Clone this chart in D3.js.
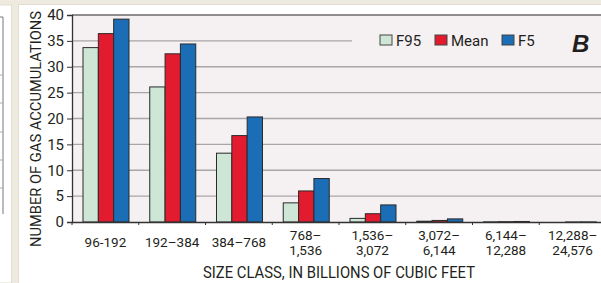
<!DOCTYPE html>
<html>
<head>
<meta charset="utf-8">
<script src="https://cdn.jsdelivr.net/npm/d3@7/dist/d3.min.js"></script>
<style>
  html, body { margin: 0; padding: 0; background: #eeeae0; }
  svg { display: block; }
  text { font-family: "Liberation Sans Narrow", "Arial Narrow", "Roboto", sans-serif; fill: #231f20; }
</style>
</head>
<body>
<div id="chart"></div>
<script>
// data
var categories = ["96-192", "192–384", "384–768", "768–|1,536", "1,536–|3,072",
                  "3,072–|6,144", "6,144–|12,288", "12,288–|24,576"];
var seriesNames = ["F95", "Mean", "F5"];
var f95  = [33.7, 26.1, 13.3, 3.7, 0.7, 0.15, 0.03, 0];
var mean = [36.4, 32.5, 16.7, 6.0, 1.6, 0.3, 0.06, 0.01];
var f5   = [39.2, 34.4, 20.3, 8.4, 3.3, 0.6, 0.1, 0.02];
var yTicks = [0, 5, 10, 15, 20, 25, 30, 35, 40];
var colors = ["#cde6d6", "#e31b2e", "#1b6db5"];

var width = 601, height = 283;
var plotLeft = 72, plotRight = 606, plotTop = 15, plotBottom = 222;

var svg = d3.select("#chart").append("svg")
    .attr("width", width)
    .attr("height", height);

// background panels
svg.append("rect").attr("x", 0).attr("y", 0).attr("width", width).attr("height", height).attr("fill", "#eeeae0");
svg.append("rect").attr("x", -5).attr("y", 5).attr("width", 16.5).attr("height", 278)
    .attr("fill", "#fff").attr("stroke", "#e2ddd0");
svg.append("rect").attr("x", 18.5).attr("y", 4.5).attr("width", 600).attr("height", 290)
    .attr("fill", "#fff").attr("stroke", "#e2ddd0");

// fragment of the neighbouring panel
svg.append("line").attr("x1", 3).attr("x2", 3).attr("y1", 17).attr("y2", 214)
    .attr("stroke", "#777");
[75, 103, 132, 160, 188].forEach(function(v) {
  svg.append("line").attr("x1", 0).attr("x2", 3).attr("y1", v).attr("y2", v).attr("stroke", "#aaa");
});
svg.append("line").attr("x1", 0).attr("x2", 3).attr("y1", 17).attr("y2", 17).attr("stroke", "#777");

var x0 = d3.scaleBand().domain(d3.range(categories.length)).range([plotLeft, plotRight]);
var x1 = d3.scaleBand().domain(seriesNames).range([11, 57]);
var y = d3.scaleLinear().domain([0, 40]).range([plotBottom, plotTop]);

// plot area
svg.append("rect").attr("x", plotLeft).attr("y", plotTop)
    .attr("width", plotRight - plotLeft).attr("height", plotBottom - plotTop)
    .attr("fill", "#f5f0f2");

// gridlines
svg.append("g").selectAll("line")
  .data(yTicks.filter(function(d) { return d > 0 && d < 40; }))
  .enter().append("line")
    .attr("x1", plotLeft).attr("x2", plotRight)
    .attr("y1", function(d) { return y(d); })
    .attr("y2", function(d) { return y(d); })
    .attr("stroke", "#a9a6a8")
    .attr("stroke-width", 1.3);
svg.append("line").attr("x1", plotLeft).attr("x2", plotRight).attr("y1", y(40)).attr("y2", y(40))
    .attr("stroke", "#6d6a6c").attr("stroke-width", 1.5);

// legend background breaks the 35 gridline
svg.append("rect").attr("x", 352).attr("y", 28).attr("width", 260).attr("height", 24).attr("fill", "#f5f0f2");

// bars
var rows = categories.map(function(c, i) { return [f95[i], mean[i], f5[i]]; });
var grp = svg.append("g").selectAll("g")
  .data(rows)
  .enter().append("g")
    .attr("transform", function(d, i) { return "translate(" + x0(i) + ",0)"; });
grp.selectAll("rect")
  .data(function(d) { return d.map(function(v, j) { return { key: seriesNames[j], value: v, j: j }; }); })
  .enter().append("rect")
    .filter(function(d) { return d.value > 0; })
    .attr("x", function(d) { return x1(d.key); })
    .attr("width", x1.bandwidth())
    .attr("y", function(d) { return y(d.value); })
    .attr("height", function(d) { return y(0) - y(d.value); })
    .attr("fill", function(d) { return colors[d.j]; })
    .attr("stroke", "#2a2a2a")
    .attr("stroke-width", 1);

// y axis
var yAxis = svg.append("g")
    .attr("transform", "translate(" + plotLeft + ",0)")
    .call(d3.axisLeft(y).tickValues(yTicks).tickSize(5).tickPadding(3));
yAxis.select(".domain").attr("stroke", "#333").attr("stroke-width", 1.3);
yAxis.selectAll(".tick line").attr("stroke", "#333");
yAxis.selectAll("text").style("font-size", "15px").attr("fill", "#231f20")
    .style("font-family", "'Liberation Sans Narrow', 'Arial Narrow', Roboto, sans-serif");

// x axis
var xAxis = svg.append("g")
    .attr("transform", "translate(0," + plotBottom + ")")
    .call(d3.axisBottom(x0).tickSize(0).tickFormat(""));
xAxis.select(".domain").attr("stroke", "#333").attr("stroke-width", 1.3);
svg.append("g").selectAll("line")
  .data(d3.range(categories.length))
  .enter().append("line")
    .attr("x1", function(d) { return x0(d); })
    .attr("x2", function(d) { return x0(d); })
    .attr("y1", plotBottom).attr("y2", plotBottom + 3)
    .attr("stroke", "#333");

// category labels
var lab = svg.append("g").selectAll("text")
  .data(categories)
  .enter().append("text")
    .attr("text-anchor", "middle")
    .style("font-size", "13.5px")
    .attr("transform", function(d, i) { return "translate(" + (x0(i) + x0.bandwidth() / 2) + ",0)"; });
lab.each(function(d) {
  var parts = d.split("|");
  var t = d3.select(this);
  if (parts.length === 1) {
    t.append("tspan").attr("x", 0).attr("y", 247).text(parts[0]);
  } else {
    t.append("tspan").attr("x", 0).attr("y", 240).text(parts[0]);
    t.append("tspan").attr("x", 0).attr("y", 255).text(parts[1]);
  }
});

// axis titles
svg.append("text")
    .attr("x", 339).attr("y", 278)
    .attr("text-anchor", "middle")
    .attr("textLength", 272).attr("lengthAdjust", "spacingAndGlyphs")
    .style("font-size", "17px")
    .text("SIZE CLASS, IN BILLIONS OF CUBIC FEET");
svg.append("text")
    .attr("transform", "translate(41,129) rotate(-90)")
    .attr("text-anchor", "middle")
    .attr("textLength", 236).attr("lengthAdjust", "spacingAndGlyphs")
    .style("font-size", "15px")
    .text("NUMBER OF GAS ACCUMULATIONS");

// legend
var legX = [380, 435, 502];
var leg = svg.append("g").selectAll("g")
  .data(seriesNames)
  .enter().append("g")
    .attr("transform", function(d, i) { return "translate(" + legX[i] + ",35)"; });
leg.append("rect")
    .attr("width", 12).attr("height", 10)
    .attr("fill", function(d, i) { return colors[i]; })
    .attr("stroke", "#444");
leg.append("text")
    .attr("x", 16).attr("y", 10.5)
    .style("font-size", "15px")
    .text(function(d) { return d; });

// panel letter
svg.append("text")
    .attr("x", 572).attr("y", 52)
    .style("font-family", "'Liberation Sans', Arial, sans-serif")
    .style("font-weight", "bold").style("font-style", "italic")
    .style("font-size", "24px")
    .attr("fill", "#000")
    .text("B");
</script>
</body>
</html>
